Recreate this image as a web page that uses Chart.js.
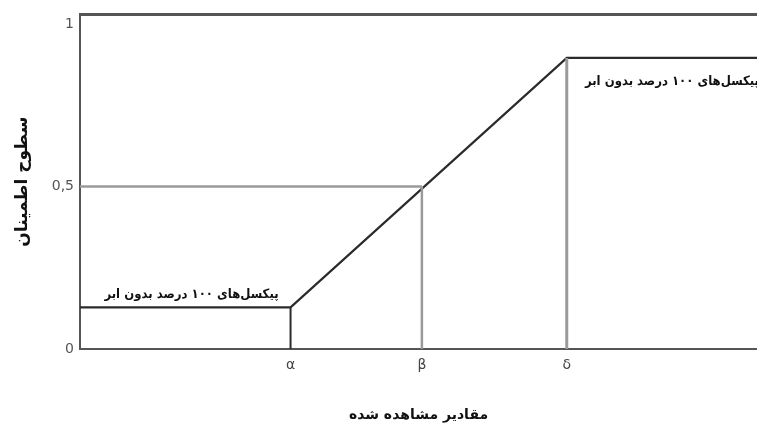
<!DOCTYPE html>
<html>
<head>
<meta charset="utf-8">
<script src="https://cdn.jsdelivr.net/npm/chart.js@4"></script>
<style>
  html, body { margin: 0; padding: 0; background: #fff; }
  #wrap { width: 757px; height: 428px; }
</style>
</head>
<body>
<div id="wrap"><canvas id="grafico"></canvas></div>
<script>
// valores
const xTickValues = [31.1, 50.5, 71.9];
const xTickLabels = ['α', 'β', 'δ'];
const yTickValues = [0, 0.5, 1];
const yTickLabels = ['0', '0,5', '1'];
const curveX = [0, 31.1, 71.9, 100];
const curveY = [0.128, 0.128, 0.896, 0.896];
const halfLevel = 0.5;
const plateauLabel = 'پیکسل‌های ۱۰۰ درصد بدون ابر';
const xTitle = 'مقادیر مشاهده شده';
const yTitle = 'سطوح اطمینان';

const alpha = xTickValues[0], beta = xTickValues[1], delta = xTickValues[2];
const low = curveY[0], high = curveY[3];

// borda de cima + rótulos dos patamares
const extras = {
  id: 'extras',
  afterDatasetsDraw(chart) {
    const { ctx, chartArea: a, scales: { x, y } } = chart;
    ctx.save();
    ctx.strokeStyle = '#555';
    ctx.lineWidth = 3;
    ctx.beginPath();
    ctx.moveTo(a.left, a.top);
    ctx.lineTo(a.right, a.top);
    ctx.stroke();

    ctx.fillStyle = '#111';
    ctx.font = 'bold 13px "DejaVu Sans Condensed", "DejaVu Sans", sans-serif';
    ctx.textAlign = 'right';
    ctx.textBaseline = 'middle';
    ctx.direction = 'rtl';
    ctx.fillText(plateauLabel, x.getPixelForValue(alpha) - 12, y.getPixelForValue(low) - 13);
    ctx.fillText(plateauLabel, a.right + 2, y.getPixelForValue(high) + 24);
    ctx.restore();
  }
};

const dark = '#2b2b2b';
const gray = '#9a9a9a';

new Chart(document.getElementById('grafico'), {
  type: 'line',
  data: {
    datasets: [
      { data: [{ x: 0, y: halfLevel }, { x: beta, y: halfLevel }], borderColor: gray, borderWidth: 2.5 },
      { data: [{ x: beta, y: 0 }, { x: beta, y: halfLevel }], borderColor: gray, borderWidth: 2.5 },
      { data: [{ x: delta, y: 0 }, { x: delta, y: high }], borderColor: gray, borderWidth: 3 },
      { data: [{ x: alpha, y: 0 }, { x: alpha, y: low }], borderColor: dark, borderWidth: 2 },
      { data: curveX.map((v, i) => ({ x: v, y: curveY[i] })), borderColor: dark, borderWidth: 2.2 }
    ]
  },
  options: {
    responsive: true,
    maintainAspectRatio: false,
    animation: false,
    layout: { padding: { top: 11, right: 0, left: 0, bottom: 0 } },
    elements: { point: { radius: 0 }, line: { tension: 0 } },
    plugins: { legend: { display: false }, tooltip: { enabled: false } },
    scales: {
      x: {
        type: 'linear', min: 0, max: 100,
        grid: { display: false, drawTicks: false },
        border: { color: '#555', width: 2 },
        afterBuildTicks: s => { s.ticks = xTickValues.map(v => ({ value: v })); },
        afterFit: s => { s.height = 79; },
        ticks: {
          padding: 8, color: '#444',
          font: { family: '"DejaVu Sans"', size: 14 },
          callback: (v, i) => xTickLabels[i]
        },
        title: {
          display: true, text: xTitle, color: '#111',
          font: { family: '"DejaVu Sans"', size: 14, weight: 'bold' },
          padding: { top: 32 }
        }
      },
      y: {
        type: 'linear', min: 0, max: 1.03,
        grid: { display: false, drawTicks: false },
        border: { color: '#555', width: 2 },
        afterBuildTicks: s => { s.ticks = yTickValues.map(v => ({ value: v })); },
        afterFit: s => { s.width = 80; },
        ticks: {
          padding: 6, color: '#555',
          font: { family: '"DejaVu Sans"', size: 14 },
          callback: (v, i) => yTickLabels[i]
        },
        title: {
          display: true, text: yTitle, color: '#111',
          font: { family: '"DejaVu Sans"', size: 17, weight: 'bold' },
          padding: { bottom: 0, top: 12 }
        }
      }
    }
  },
  plugins: [extras]
});
</script>
</body>
</html>
